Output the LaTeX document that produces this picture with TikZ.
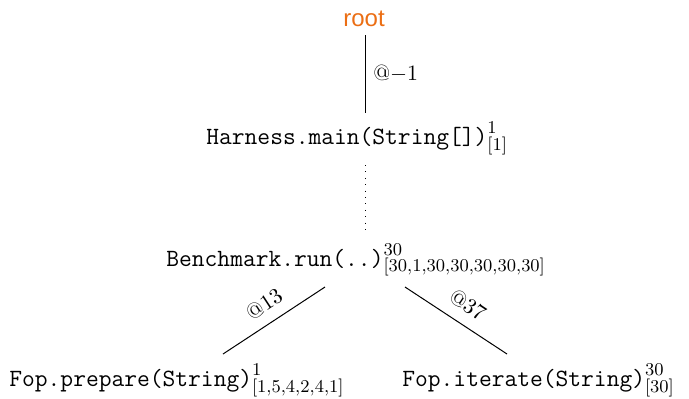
\documentclass[tikz,border=0pt]{standalone}
\usepackage{fontspec}
\newfontfamily\rootfont{Liberation Sans}
\DeclareMathSizes{12.4}{12.4}{9}{7}
\definecolor{rootorange}{RGB}{235,110,20}
\begin{document}
\begin{tikzpicture}[x=0.5pt,y=-0.5pt,
  fn/.style={inner sep=0pt,anchor=base west,font=\fontsize{12.4}{14}\selectfont},
  lbl/.style={inner sep=0pt,font=\fontsize{11}{13}\selectfont},
  edge/.style={line width=0.5pt}]
\useasboundingbox (0,0) rectangle (689,398);
\node[inner sep=0pt,anchor=base,text=rootorange,font=\rootfont\fontsize{12}{14}\selectfont] (root) at (364,26) {root};
\node[fn] (harness) at (206,144) {$\texttt{Harness.main(String[])}^{1}_{[1]}$};
\node[fn] (bench) at (166,266) {$\texttt{Benchmark.run(..)}^{30}_{[30,1,30,30,30,30,30]}$};
\node[fn] (prep) at (9,386) {$\texttt{Fop.prepare(String)}^{1}_{[1,5,4,2,4,1]}$};
\node[fn] (iter) at (402,386) {$\texttt{Fop.iterate(String)}^{30}_{[30]}$};
\coordinate (r1) at (365,35);
\coordinate (h1) at (365,113);
\coordinate (h2) at (365,165);
\coordinate (b1) at (365,231);
\coordinate (bl) at (325,287);
\coordinate (pl) at (223,354);
\coordinate (br) at (405,287);
\coordinate (ir) at (507,354);
\draw[edge] (r1) -- (h1);
\node[lbl,anchor=west] (l1) at (373,74) {$@{-}1$};
\draw[edge,dash pattern=on 0.5pt off 2.7pt] (h2) -- (b1);
\draw[edge] (bl) -- (pl);
\node[lbl,rotate=33.3] (l2) at (264,304) {$@13$};
\draw[edge] (br) -- (ir);
\node[lbl,rotate=-33.3] (l3) at (468,305) {$@37$};
\end{tikzpicture}
\end{document}
